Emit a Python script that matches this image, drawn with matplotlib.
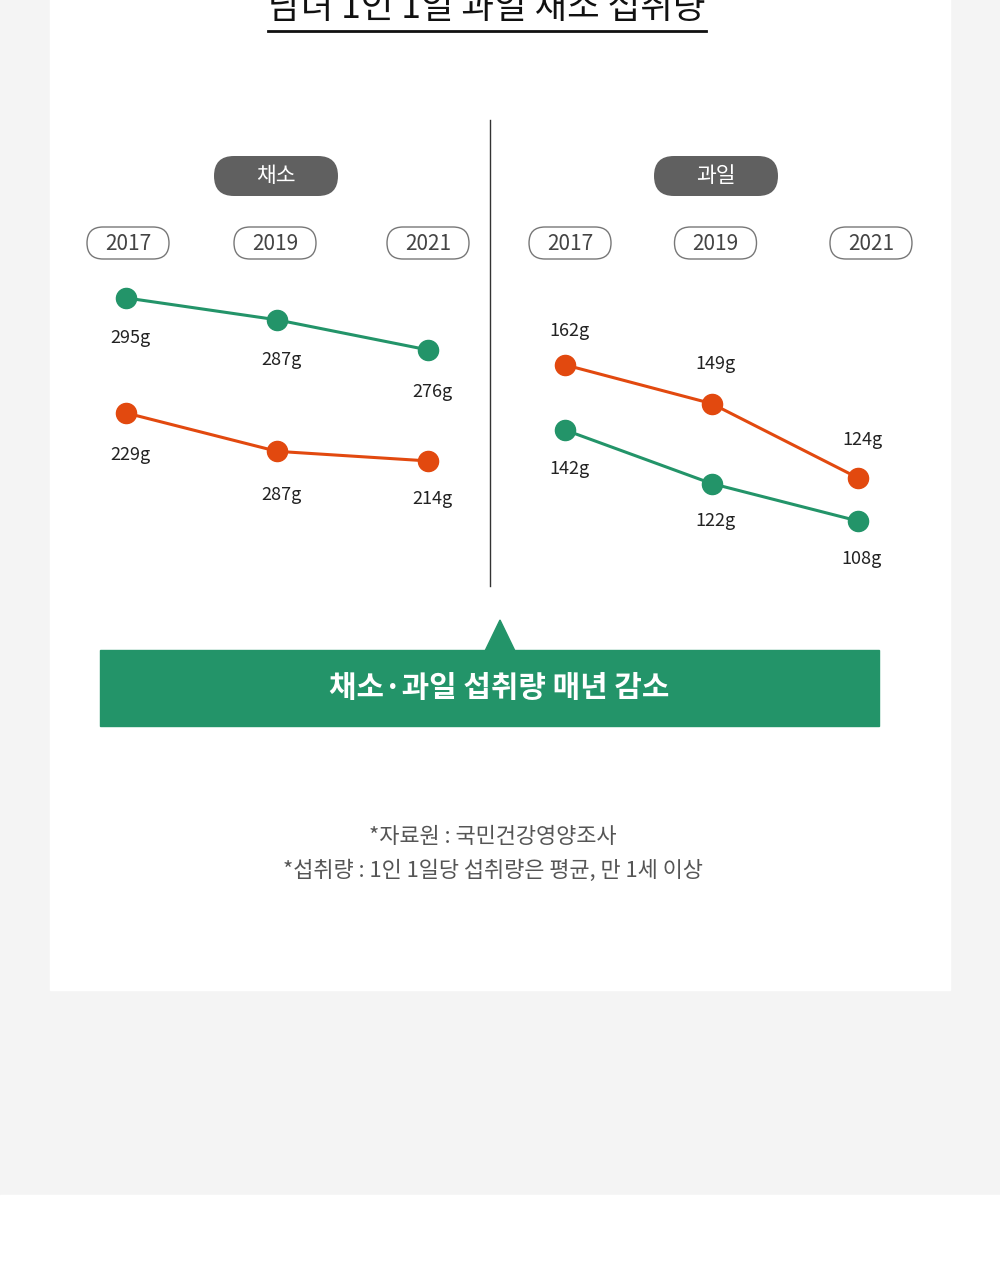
import matplotlib.pyplot as plt
from matplotlib.patches import FancyBboxPatch, Rectangle, Polygon

plt.rcParams['font.family'] = ['Noto Sans CJK KR', 'DejaVu Sans']

# data
years = [2017, 2019, 2021]
year_labels = ['2017', '2019', '2021']

veg_green = [295, 287, 276]
veg_green_labels = ['295g', '287g', '276g']
veg_orange = [229, 217, 214]
veg_orange_labels = ['229g', '287g', '214g']

fruit_orange = [162, 149, 124]
fruit_orange_labels = ['162g', '149g', '124g']
fruit_green = [142, 122, 108]
fruit_green_labels = ['142g', '122g', '108g']

GREEN = '#239469'
ORANGE = '#e2490f'
W, H = 1000, 1280

fig = plt.figure(figsize=(10, 12.8), dpi=100)
fig.patch.set_facecolor('#f4f4f4')

bg = fig.add_axes([0, 0, 1, 1])
bg.set_xlim(0, W)
bg.set_ylim(H, 0)
bg.axis('off')
bg.add_patch(Rectangle((50, -5), 900, 995, color='white', zorder=0))
bg.add_patch(Rectangle((0, 1195), 1000, 90, color='white', zorder=0))


def px_axes(l, t, r, b):
    ax = fig.add_axes([l / W, 1 - b / H, (r - l) / W, (b - t) / H])
    ax.patch.set_alpha(0)
    ax.axis('off')
    return ax


def draw_series(ax, vals, labels, color, dys):
    ax.plot(years, vals, color=color, lw=2.2, marker='o', ms=14.5,
            solid_capstyle='round', zorder=3)
    for x, v, lab, dy in zip(years, vals, labels, dys):
        ax.annotate(lab, (x, v), xytext=(4, dy), textcoords='offset pixels',
                    ha='center', va='center', fontsize=13, color='#222')


def year_pills(ax, cy, dxs):
    for yr, lab, dx in zip(years, year_labels, dxs):
        xp = ax.transData.transform((yr, 0))[0]
        xp = bg.transData.inverted().transform((xp, 0))[0] + dx
        bg.add_patch(FancyBboxPatch((xp - 41, cy - 16), 82, 32,
                                    boxstyle='round,pad=0,rounding_size=16',
                                    fc='white', ec='#777', lw=1))
        bg.text(xp, cy + 1, lab, ha='center', va='center', fontsize=15, color='#444')


def cat_pill(cx, cy, text):
    bg.add_patch(FancyBboxPatch((cx - 62, cy - 20), 124, 40,
                                boxstyle='round,pad=0,rounding_size=20',
                                fc='#606060', ec='none'))
    bg.text(cx, cy, text, ha='center', va='center', fontsize=15.5, color='white')


# left panel: vegetables
axl = px_axes(88.25, 270, 465.75, 530)
axl.set_xlim(2016.5, 2021.5)
axl.set_ylim(210.2, 305.2)
axl2 = axl.twinx()
axl2.axis('off')
axl2.set_ylim(192.4, 273.7)
draw_series(axl, veg_green, veg_green_labels, GREEN, [-40, -40, -42])
draw_series(axl2, veg_orange, veg_orange_labels, ORANGE, [-42, -44, -38])

# right panel: fruit
axr = px_axes(528.4, 270, 894.6, 590)
axr.set_xlim(2016.5, 2021.5)
axr.set_ylim(86.3, 193.9)
axr2 = axr.twinx()
axr2.axis('off')
axr2.set_ylim(82.2, 201.8)
draw_series(axr, fruit_orange, fruit_orange_labels, ORANGE, [34, 40, 38])
draw_series(axr2, fruit_green, fruit_green_labels, GREEN, [-39, -37, -38])

year_pills(axl, 243, [2, -2, 0])
year_pills(axr, 243, [5, 4, 13])
cat_pill(276, 176, '채소')
cat_pill(716, 176, '과일')

# divider
bg.plot([490, 490], [120, 586], color='#333', lw=1)

# title (cut at the top, as in the original)
bg.text(487, 26, '남녀 1인 1일 과일 채소 섭취량', ha='center', va='bottom',
        fontsize=25.5, color='#111')
bg.plot([268, 706], [31, 31], color='#111', lw=2)

# banner
bg.add_patch(Polygon([(485, 651), (500, 620), (515, 651)], color=GREEN))
bg.add_patch(Rectangle((100, 650), 779, 76, color=GREEN))
bg.text(499, 688, '채소·과일 섭취량 매년 감소', ha='center', va='center',
        fontsize=21.5, fontweight='bold', color='white')

# footnotes
bg.text(493, 837, '*자료원 : 국민건강영양조사', ha='center', va='center',
        fontsize=15.8, color='#555')
bg.text(493, 871, '*섭취량 : 1인 1일당 섭취량은 평균, 만 1세 이상', ha='center', va='center',
        fontsize=15.8, color='#555')

fig.savefig('out.png', dpi=100, facecolor=fig.get_facecolor())
